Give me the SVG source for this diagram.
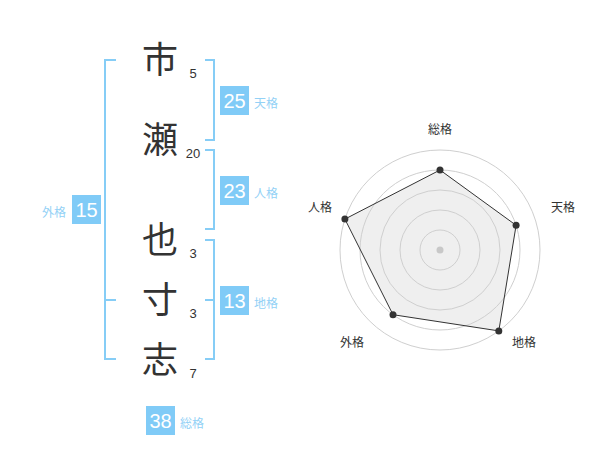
<svg xmlns="http://www.w3.org/2000/svg" width="600" height="470" viewBox="0 0 600 470">
<style>
.k{font-family:"Noto Sans CJK JP","Noto Sans",sans-serif;font-size:36px;fill:#333;text-anchor:middle}
.n{font-family:"Liberation Sans",Arial,sans-serif;font-size:13px;fill:#333;text-anchor:middle}
.br{fill:none;stroke:#86cdf6;stroke-width:2}
.box{fill:#80cbf7}
.bt{font-family:"Liberation Sans",Arial,sans-serif;font-size:20px;fill:#fff;text-anchor:middle}
.lb{font-family:"Noto Sans CJK JP",sans-serif;font-size:12px;fill:#93d1f6}
.rl{font-family:"Noto Sans CJK JP",sans-serif;font-size:12px;fill:#333;text-anchor:middle}
.ring{fill:none;stroke:#cfcfcf;stroke-width:1}
.pt{fill:#333}
</style>
<rect width="600" height="470" fill="#fff"/>
<g id="name">
<text class="k" x="160" y="73">市</text>
<text class="k" x="160" y="153">瀬</text>
<text class="k" x="160" y="253">也</text>
<text class="k" x="160" y="313">寸</text>
<text class="k" x="160" y="373">志</text>
<text class="n" x="193" y="78">5</text>
<text class="n" x="193" y="158">20</text>
<text class="n" x="193" y="258">3</text>
<text class="n" x="193" y="318">3</text>
<text class="n" x="193" y="378">7</text>
</g>
<g id="connectors">
<path class="br" d="M116,60 H105 V359 H116 M105,300 H116"/>
<path class="br" d="M205,60 H214 V140 H205"/>
<path class="br" d="M205,150 H214 V229 H205"/>
<path class="br" d="M205,240 H214 V359 H205 M205,300 H214"/>
</g>
<g id="tenkaku">
<rect class="box" x="220" y="86" width="29" height="29"/>
<text class="bt" x="234.5" y="108">25</text>
<text class="lb" x="254" y="108">天格</text>
</g>
<g id="jinkaku">
<rect class="box" x="220" y="176" width="29" height="29"/>
<text class="bt" x="234.5" y="198">23</text>
<text class="lb" x="254" y="198">人格</text>
</g>
<g id="chikaku">
<rect class="box" x="220" y="286" width="29" height="29"/>
<text class="bt" x="234.5" y="308">13</text>
<text class="lb" x="254" y="308">地格</text>
</g>
<g id="gaikaku">
<rect class="box" x="72" y="195" width="29" height="29"/>
<text class="bt" x="86.5" y="217">15</text>
<text class="lb" x="66" y="217" text-anchor="end">外格</text>
</g>
<g id="soukaku">
<rect class="box" x="146" y="406" width="29" height="29"/>
<text class="bt" x="160.5" y="428">38</text>
<text class="lb" x="180" y="428">総格</text>
</g>
<g id="radar">
<polygon points="440,170 516.1,225.3 498.8,330.9 393,314.7 344.9,219.1" fill="#efefef"/>
<circle class="ring" cx="440" cy="250" r="20"/>
<circle class="ring" cx="440" cy="250" r="40"/>
<circle class="ring" cx="440" cy="250" r="60"/>
<circle class="ring" cx="440" cy="250" r="80"/>
<circle class="ring" cx="440" cy="250" r="100"/>
<polygon points="440,170 516.1,225.3 498.8,330.9 393,314.7 344.9,219.1" fill="none" stroke="#333" stroke-width="1"/>
<circle cx="440" cy="250" r="3.5" fill="#c8c8c8"/>
<circle class="pt" cx="440" cy="170" r="3.5"/>
<circle class="pt" cx="516.1" cy="225.3" r="3.5"/>
<circle class="pt" cx="498.8" cy="330.9" r="3.5"/>
<circle class="pt" cx="393" cy="314.7" r="3.5"/>
<circle class="pt" cx="344.9" cy="219.1" r="3.5"/>
<text class="rl" x="440" y="134">総格</text>
<text class="rl" x="563" y="212">天格</text>
<text class="rl" x="524" y="347">地格</text>
<text class="rl" x="352" y="347">外格</text>
<text class="rl" x="320" y="212">人格</text>
</g>
</svg>
